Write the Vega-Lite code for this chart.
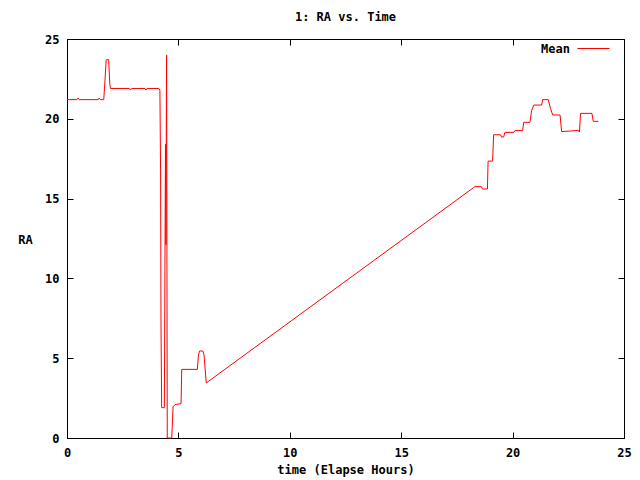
{
  "$schema": "https://vega.github.io/schema/vega-lite/v6.json",
  "autosize": "none",
  "padding": {"left": 67, "top": 39, "right": 16, "bottom": 42},
  "width": 557,
  "height": 399,
  "background": "white",
  "title": {"text": "1: RA vs. Time", "font": "DejaVu Sans Mono", "fontSize": 12, "fontWeight": "bold", "color": "black", "anchor": "middle", "offset": 8},
  "config": {
    "view": {"stroke": "black", "strokeWidth": 1},
    "axis": {"grid": false, "ticks": true, "tickSize": -6, "tickWidth": 1, "tickColor": "black", "domainColor": "black", "labelFont": "DejaVu Sans Mono", "labelFontSize": 12, "labelFontWeight": "bold", "labelColor": "black", "titleFont": "DejaVu Sans Mono", "titleFontSize": 12, "titleFontWeight": "bold", "titleColor": "black", "labelFlush": false, "labelOverlap": false}
  },
  "data": {"values": [
    {"t": 0, "ra": 21.2, "s": "Mean"},
    {"t": 0.45, "ra": 21.2, "s": "Mean"},
    {"t": 0.5, "ra": 21.3, "s": "Mean"},
    {"t": 0.55, "ra": 21.2, "s": "Mean"},
    {"t": 1.4, "ra": 21.2, "s": "Mean"},
    {"t": 1.44, "ra": 21.3, "s": "Mean"},
    {"t": 1.5, "ra": 21.2, "s": "Mean"},
    {"t": 1.65, "ra": 21.2, "s": "Mean"},
    {"t": 1.7, "ra": 22.3, "s": "Mean"},
    {"t": 1.76, "ra": 23.7, "s": "Mean"},
    {"t": 1.87, "ra": 23.7, "s": "Mean"},
    {"t": 1.92, "ra": 22.2, "s": "Mean"},
    {"t": 1.95, "ra": 21.9, "s": "Mean"},
    {"t": 2.8, "ra": 21.9, "s": "Mean"},
    {"t": 2.85, "ra": 21.8, "s": "Mean"},
    {"t": 2.9, "ra": 21.9, "s": "Mean"},
    {"t": 3.5, "ra": 21.9, "s": "Mean"},
    {"t": 3.55, "ra": 21.8, "s": "Mean"},
    {"t": 3.6, "ra": 21.9, "s": "Mean"},
    {"t": 4.12, "ra": 21.9, "s": "Mean"},
    {"t": 4.17, "ra": 21.8, "s": "Mean"},
    {"t": 4.2, "ra": 16.8, "s": "Mean"},
    {"t": 4.22, "ra": 6.9, "s": "Mean"},
    {"t": 4.25, "ra": 1.9, "s": "Mean"},
    {"t": 4.37, "ra": 1.9, "s": "Mean"},
    {"t": 4.4, "ra": 12.1, "s": "Mean"},
    {"t": 4.42, "ra": 18.4, "s": "Mean"},
    {"t": 4.44, "ra": 12.1, "s": "Mean"},
    {"t": 4.47, "ra": 24.0, "s": "Mean"},
    {"t": 4.5, "ra": 0, "s": "Mean"},
    {"t": 4.7, "ra": 0, "s": "Mean"},
    {"t": 4.72, "ra": 0.6, "s": "Mean"},
    {"t": 4.76, "ra": 1.95, "s": "Mean"},
    {"t": 4.85, "ra": 2.1, "s": "Mean"},
    {"t": 5.12, "ra": 2.15, "s": "Mean"},
    {"t": 5.15, "ra": 4.3, "s": "Mean"},
    {"t": 5.85, "ra": 4.3, "s": "Mean"},
    {"t": 5.9, "ra": 5.2, "s": "Mean"},
    {"t": 5.95, "ra": 5.45, "s": "Mean"},
    {"t": 6.1, "ra": 5.45, "s": "Mean"},
    {"t": 6.15, "ra": 5.2, "s": "Mean"},
    {"t": 6.25, "ra": 3.45, "s": "Mean"},
    {"t": 18.31, "ra": 15.75, "s": "Mean"},
    {"t": 18.6, "ra": 15.75, "s": "Mean"},
    {"t": 18.65, "ra": 15.6, "s": "Mean"},
    {"t": 18.87, "ra": 15.6, "s": "Mean"},
    {"t": 18.9, "ra": 17.35, "s": "Mean"},
    {"t": 19.1, "ra": 17.35, "s": "Mean"},
    {"t": 19.15, "ra": 19.0, "s": "Mean"},
    {"t": 19.46, "ra": 19.0, "s": "Mean"},
    {"t": 19.5, "ra": 18.86, "s": "Mean"},
    {"t": 19.6, "ra": 18.86, "s": "Mean"},
    {"t": 19.65, "ra": 19.15, "s": "Mean"},
    {"t": 20.06, "ra": 19.15, "s": "Mean"},
    {"t": 20.1, "ra": 19.26, "s": "Mean"},
    {"t": 20.45, "ra": 19.26, "s": "Mean"},
    {"t": 20.5, "ra": 19.78, "s": "Mean"},
    {"t": 20.78, "ra": 19.78, "s": "Mean"},
    {"t": 20.85, "ra": 20.5, "s": "Mean"},
    {"t": 20.95, "ra": 20.86, "s": "Mean"},
    {"t": 21.3, "ra": 20.86, "s": "Mean"},
    {"t": 21.35, "ra": 21.2, "s": "Mean"},
    {"t": 21.6, "ra": 21.2, "s": "Mean"},
    {"t": 21.7, "ra": 20.65, "s": "Mean"},
    {"t": 21.8, "ra": 20.24, "s": "Mean"},
    {"t": 22.13, "ra": 20.24, "s": "Mean"},
    {"t": 22.2, "ra": 19.2, "s": "Mean"},
    {"t": 22.75, "ra": 19.25, "s": "Mean"},
    {"t": 22.95, "ra": 19.28, "s": "Mean"},
    {"t": 23.0, "ra": 19.17, "s": "Mean"},
    {"t": 23.05, "ra": 20.34, "s": "Mean"},
    {"t": 23.56, "ra": 20.34, "s": "Mean"},
    {"t": 23.62, "ra": 19.84, "s": "Mean"},
    {"t": 23.85, "ra": 19.84, "s": "Mean"}
  ]},
  "layer": [
    {
      "mark": {"type": "line", "strokeWidth": 1, "interpolate": "linear"},
      "encoding": {
        "x": {"field": "t", "type": "quantitative", "scale": {"domain": [0, 25], "nice": false, "zero": false}, "axis": {"orient": "bottom", "title": "time (Elapse Hours)", "values": [0, 5, 10, 15, 20, 25], "labelPadding": 15, "titlePadding": 6}},
        "y": {"field": "ra", "type": "quantitative", "scale": {"domain": [0, 25], "nice": false}, "axis": {"orient": "left", "title": "RA", "values": [0, 5, 10, 15, 20, 25], "labelPadding": 14, "titleAngle": 0, "titleAlign": "center", "titleBaseline": "middle", "titleX": -42, "titleY": 200}},
        "color": {"field": "s", "type": "nominal", "scale": {"range": ["#ff0000"]}, "legend": {"title": null, "orient": "none", "legendX": 510, "legendY": -7, "symbolType": "stroke", "symbolSize": 1024, "symbolStrokeWidth": 1, "labelAlign": "right", "labelOffset": -40, "labelFont": "DejaVu Sans Mono", "labelFontSize": 12, "labelFontWeight": "bold", "labelColor": "black"}}
      }
    },
    {
      "mark": {"type": "line", "strokeWidth": 1, "opacity": 0},
      "encoding": {
        "x": {"field": "t", "type": "quantitative", "axis": {"orient": "top", "title": null, "labels": false, "values": [0, 5, 10, 15, 20, 25], "domain": false}},
        "y": {"field": "ra", "type": "quantitative", "axis": {"orient": "right", "title": null, "labels": false, "values": [0, 5, 10, 15, 20, 25], "domain": false}}
      }
    }
  ],
  "resolve": {"axis": {"x": "independent", "y": "independent"}}
}
